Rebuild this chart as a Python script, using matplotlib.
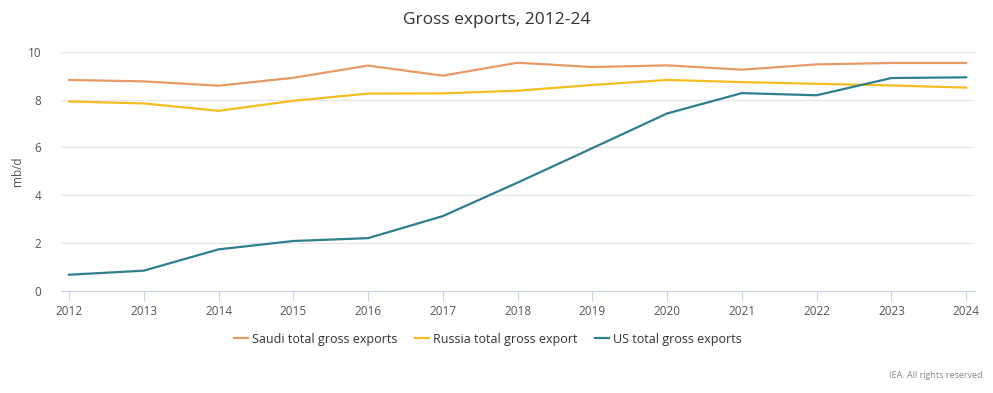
import numpy as np
import matplotlib.pyplot as plt

# values (mb/d)
years = np.arange(2012, 2025)
saudi = [8.82, 8.76, 8.58, 8.91, 9.42, 9.00, 9.54, 9.36, 9.43, 9.25, 9.47, 9.53, 9.53]
russia = [7.92, 7.84, 7.53, 7.95, 8.25, 8.26, 8.37, 8.61, 8.82, 8.73, 8.66, 8.59, 8.50]
us = [0.68, 0.85, 1.74, 2.09, 2.21, 3.13, 4.53, 5.97, 7.42, 8.27, 8.18, 8.90, 8.93]

series = [
    ("Saudi total gross exports", saudi, "#E69A66"),
    ("Russia total gross export", russia, "#F5BD1F"),
    ("US total gross exports", us, "#2F7F8E"),
]

plt.rcParams['font.family'] = ['Open Sans', 'DejaVu Sans']

fig = plt.figure(figsize=(9.93, 3.93), dpi=100)
ax = fig.add_axes([0.0614, 0.2595, 0.9206, 0.6089])

for name, vals, col in series:
    ax.plot(years, vals, color=col, lw=1.6, label=name, solid_joinstyle='round')

ax.set_xlim(2012 - 0.107, 2024 + 0.12)
ax.set_ylim(0, 10)
ax.set_xticks(years)
ax.set_yticks([0, 2, 4, 6, 8, 10])
ax.tick_params(axis='x', length=7, color='#ccd6eb', labelsize=8.5, labelcolor='#555555', pad=3)
ax.tick_params(axis='y', length=0, labelsize=8.5, labelcolor='#555555', pad=14)
ax.grid(axis='y', color='#e6e6e6', lw=1)
ax.set_axisbelow(True)
for s in ['top', 'right', 'left']:
    ax.spines[s].set_visible(False)
ax.spines['bottom'].set_color('#ccd6eb')
ax.set_ylabel('mb/d', fontsize=8.5, color='#555555', labelpad=3)

fig.text(0.5, 1 - 20 / 393, 'Gross exports, 2012-24', ha='center', va='center',
         fontsize=12.5, color='#333333')

fig.legend(loc='center', bbox_to_anchor=(488 / 993, 1 - 339 / 393), ncol=3, frameon=False,
           fontsize=9, handlelength=1.1, handletextpad=0.35, columnspacing=1.4,
           labelcolor='#333333')

fig.text(985 / 993, 1 - 376 / 393, 'IEA. All rights reserved.', ha='right', va='center',
         fontsize=6.5, color='#888888')

fig.savefig('out.png', dpi=100)
